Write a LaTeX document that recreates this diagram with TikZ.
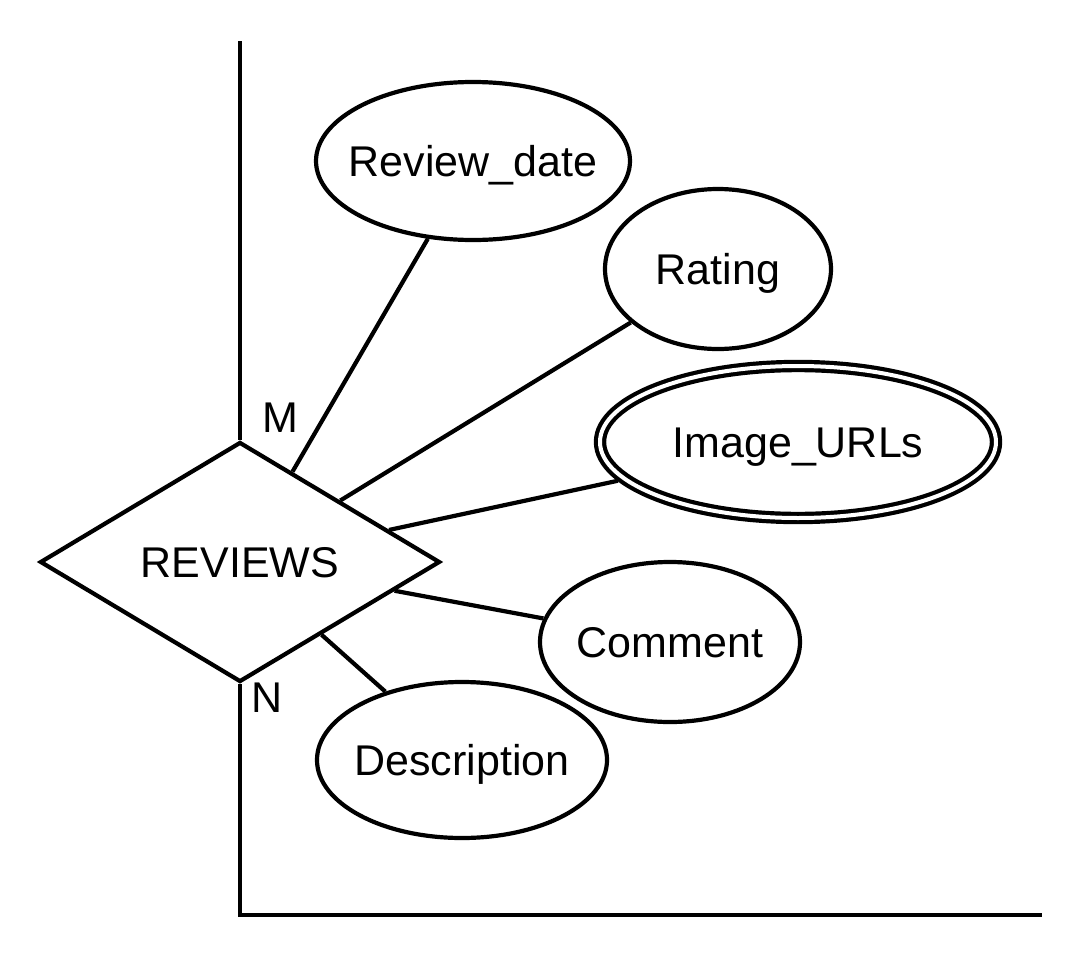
\documentclass[tikz,border=0pt]{standalone}
\usepackage{fontspec}
\setmainfont{Liberation Sans}
\usetikzlibrary{shapes.geometric,positioning}

\begin{document}
\begin{tikzpicture}[x=1pt,y=-1pt,line width=4.2pt,
  font=\fontsize{43}{52}\selectfont,
  entity node/.style={diamond,draw,aspect=1.667,minimum width=400pt,
  minimum height=240pt,inner sep=0pt,text height=31pt,text depth=0pt},
  attr node/.style={ellipse,draw,inner sep=0pt,
  text height=31pt,text depth=0pt},
  multi node/.style={attr node,double,double distance=4pt,outer sep=6.2pt},
  card node/.style={inner sep=0pt,text height=31pt,text depth=0pt}]

  \useasboundingbox (0,0) rectangle (1088,964);

  \node[entity node] (rev) at (240,562) {REVIEWS};
  \node[attr node,inner xsep=-13.5pt,minimum width=314pt,minimum height=158pt] (date) at (473,161) {Review\_date};
  \node[attr node,minimum width=226pt,minimum height=160pt] (rating) at (718,269) {Rating};
  \node[multi node,minimum width=396pt,minimum height=152pt] (urls) at (798,442) {Image\_URLs};
  \node[attr node,inner xsep=-1.5pt,minimum width=260pt,minimum height=160pt] (comment) at (670,642) {Comment};
  \node[attr node,inner xsep=-5pt,minimum width=290pt,minimum height=156pt] (desc) at (462,760) {Description};

  \node[card node] (m) [above right=5pt and 20pt of rev.north] {M};
  \node[card node] (n) [below right=-5pt and 9pt of rev.south] {N};

  \coordinate (top) at (240,41);
  \coordinate (corner) at (240,915);
  \coordinate (end) at (1042,915);

  %Relationship lines to the other entities%
  \draw (top) -- (rev.north);
  \draw (rev.south) -- (corner) -- (end);

  %Attributes of REVIEWS%
  \path (rev) edge (date)
    (rev) edge (rating)
    (rev) edge (urls)
    (rev) edge (comment)
    (rev) edge (desc);

\end{tikzpicture}
\end{document}
